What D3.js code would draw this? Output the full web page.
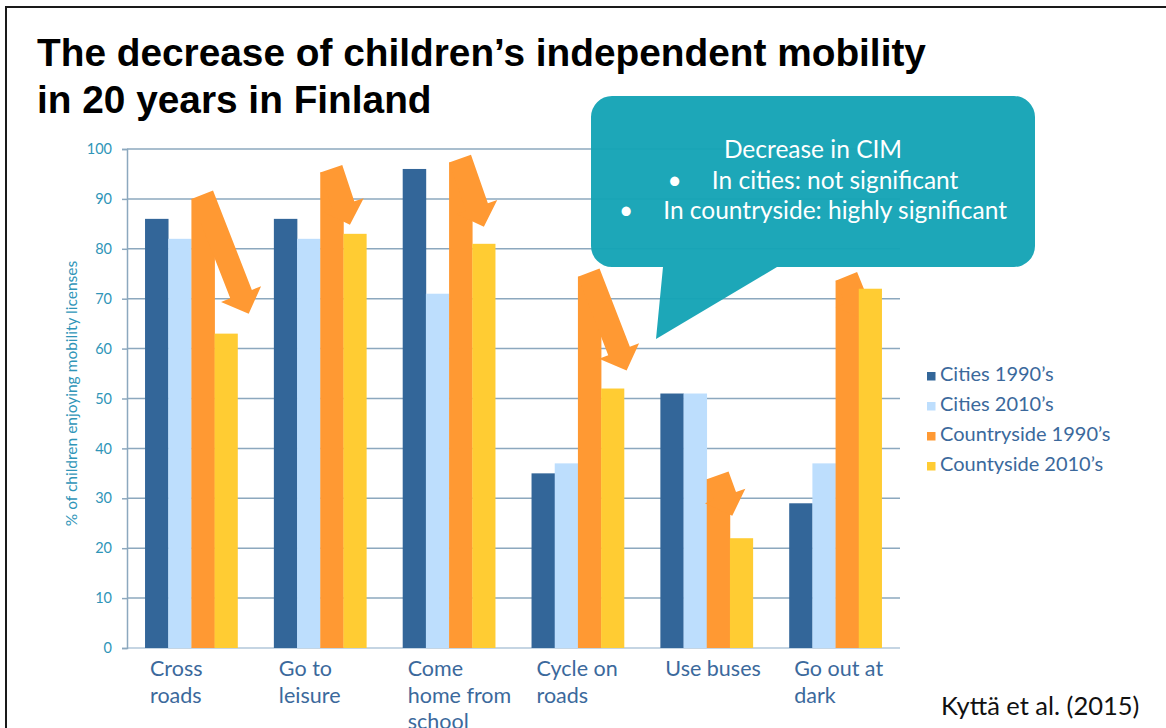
<!DOCTYPE html>
<html>
<head>
<meta charset="utf-8">
<script src="https://cdn.jsdelivr.net/npm/d3@7"></script>
<style>
  html, body { margin: 0; padding: 0; background: #fff; overflow: hidden; }
  svg { display: block; }
</style>
</head>
<body>
<svg id="chart" width="1166" height="728"></svg>
<script>
// ---------------- DATA ----------------
const categories = ["Cross roads", "Go to leisure", "Come home from school", "Cycle on roads", "Use buses", "Go out at dark"];
const categoryLines = [["Cross", "roads"], ["Go to", "leisure"], ["Come", "home from", "school"], ["Cycle on", "roads"], ["Use buses"], ["Go out at", "dark"]];
const seriesNames = ["Cities 1990\u2019s", "Cities 2010\u2019s", "Countryside 1990\u2019s", "Countyside 2010\u2019s"];
const cities1990 = [86, 86, 96, 35, 51, 29];
const cities2010 = [82, 82, 71, 37, 51, 37];
const country1990 = [90, 95.3, 97.3, 74.4, 33.8, 73.6];
const country2010 = [63, 83, 81, 52, 22, 72];
// arrow annotations (countryside decrease): value at arrow tip, and tip shift (in bar widths) from the 2010 bar centre
const arrowTipValue = [67, 84.8, 84.4, 55.6, 26.5, 66];
const arrowTipShift = [0.97, -0.22, 0, 0.6, -0.4, -0.3];
const yTicks = [0, 10, 20, 30, 40, 50, 60, 70, 80, 90, 100];
const yTitle = "% of children enjoying mobility licenses";
const title = ["The decrease of children\u2019s independent mobility", "in 20 years in Finland"];
const calloutLines = ["Decrease in CIM", "In cities: not significant", "In countryside: highly significant"];
const citation = "Kytt\u00e4 et al. (2015)";

// ---------------- STYLE ----------------
const colors = ["#336699", "#BDDEFD", "#FF9933", "#FFCC33"];
const gridColor = "#8CA8BE";
const tealText = "#2F95B8";
const blueText = "#3B699C";

const svg = d3.select("#chart");
const margin = { left: 127, right: 900, top: 149, bottom: 648 };

const x0 = d3.scaleBand().domain(categories).range([margin.left, margin.right]).paddingInner(0.28).paddingOuter(0.14);
const x1 = d3.scaleBand().domain(d3.range(4)).range([0, x0.bandwidth()]);
const y = d3.scaleLinear().domain([0, 100]).range([margin.bottom, margin.top]);

// frame
svg.append("rect").attr("x", 6).attr("y", 7).attr("width", 1300).attr("height", 900)
  .attr("fill", "none").attr("stroke", "#1a1a1a").attr("stroke-width", 2);

// title
svg.append("g").selectAll("text").data(title).join("text")
  .attr("x", 37).attr("y", (d, i) => 66 + i * 47)
  .attr("font-family", "'Liberation Sans', Arial, sans-serif").attr("font-weight", "bold")
  .attr("font-size", 38.8).attr("fill", "#000").text(d => d);

// gridlines
const grid = svg.append("g");
grid.selectAll("line").data(yTicks.filter(t => t > 0)).join("line")
  .attr("x1", margin.left).attr("x2", margin.right)
  .attr("y1", d => y(d)).attr("y2", d => y(d))
  .attr("stroke", gridColor).attr("stroke-width", 1.5);
// baseline
grid.append("line").attr("x1", margin.left).attr("x2", margin.right)
  .attr("y1", y(0)).attr("y2", y(0)).attr("stroke", "#C5D5E3").attr("stroke-width", 2);

// y axis
const yAxis = svg.append("g").attr("transform", `translate(${margin.left},0)`)
  .call(d3.axisLeft(y).tickValues(yTicks).tickSize(5).tickPadding(10));
yAxis.select(".domain").attr("stroke", gridColor).attr("stroke-width", 1.5);
yAxis.selectAll(".tick line").attr("stroke", gridColor).attr("stroke-width", 1.5);
yAxis.selectAll(".tick text").attr("fill", tealText).attr("font-family", "Lato, sans-serif").attr("font-size", 14.5);

// y title
svg.append("text").attr("transform", `translate(77,${(margin.top + margin.bottom) / 2 - 5}) rotate(-90)`)
  .attr("text-anchor", "middle").attr("font-family", "Lato, sans-serif").attr("font-size", 15.5)
  .attr("fill", tealText).text(yTitle);

// bars
const series = [cities1990, cities2010, country1990, country2010];
const bw = x1.bandwidth();
const barG = svg.append("g");
[0, 1, 2].forEach(s => {
  barG.append("g").selectAll("rect").data(categories).join("rect")
    .attr("x", c => x0(c) + x1(s))
    .attr("y", (c, i) => y(series[s][i]))
    .attr("width", bw + 0.3)
    .attr("height", (c, i) => y(0) - y(series[s][i]))
    .attr("fill", colors[s]);
});

// arrows (from top of countryside 1990 bars towards the 2010 bars)
function arrowPoints(i) {
  const c = categories[i];
  const L = [x0(c) + x1(2), y(country1990[i])];
  const T = [x0(c) + x1(3) + bw / 2 + arrowTipShift[i] * bw, y(arrowTipValue[i])];
  let S = [L[0] + bw / 2, L[1]];
  let d, p;
  for (let k = 0; k < 3; k++) {
    const dx = T[0] - S[0], dy = T[1] - S[1], len = Math.hypot(dx, dy);
    d = [dx / len, dy / len];
    p = [d[1], -d[0]];
    S = [L[0] + p[0] * bw / 2, L[1] + p[1] * bw / 2];
  }
  const hl = 21, hw = 21.5, sw = bw / 2;
  const B = [T[0] - d[0] * hl, T[1] - d[1] * hl];
  const pt = (o, s) => [o[0] + p[0] * s, o[1] + p[1] * s];
  return [pt(S, -sw), pt(S, sw), pt(B, sw), pt(B, hw), T, pt(B, -hw), pt(B, -sw)];
}
barG.append("g").selectAll("polygon").data(categories).join("polygon")
  .attr("points", (c, i) => arrowPoints(i).map(q => q.join(",")).join(" "))
  .attr("fill", colors[2]);

// 2010 countryside bars on top
barG.append("g").selectAll("rect").data(categories).join("rect")
  .attr("x", c => x0(c) + x1(3))
  .attr("y", (c, i) => y(series[3][i]))
  .attr("width", bw)
  .attr("height", (c, i) => y(0) - y(series[3][i]))
  .attr("fill", colors[3]);

// x labels
const xl = svg.append("g").selectAll("g").data(categories).join("g")
  .attr("transform", c => `translate(${x0(c) + 5},0)`);
xl.selectAll("text").data((c, i) => categoryLines[i]).join("text")
  .attr("x", 0).attr("y", (d, j) => 676 + j * 26.5)
  .attr("font-family", "Lato, sans-serif").attr("font-size", 21.5)
  .attr("fill", blueText).text(d => d);

// legend
const leg = svg.append("g").selectAll("g").data(seriesNames).join("g")
  .attr("transform", (d, i) => `translate(927,${381 + i * 30})`);
leg.append("rect").attr("x", 0).attr("y", -9).attr("width", 8.5).attr("height", 8.5).attr("fill", (d, i) => colors[i]);
leg.append("text").attr("x", 13).attr("y", 0).attr("font-family", "Lato, sans-serif").attr("font-size", 20)
  .attr("fill", blueText).text(d => d);

// callout
const cx0 = 591, cy0 = 96, cx1 = 1035, cy1 = 267, r = 21;
const callPath = d3.path();
callPath.moveTo(cx0 + r, cy0);
callPath.lineTo(cx1 - r, cy0);
callPath.arcTo(cx1, cy0, cx1, cy0 + r, r);
callPath.lineTo(cx1, cy1 - r);
callPath.arcTo(cx1, cy1, cx1 - r, cy1, r);
callPath.lineTo(777, cy1);
callPath.lineTo(656, 339);
callPath.lineTo(663, cy1);
callPath.lineTo(cx0 + r, cy1);
callPath.arcTo(cx0, cy1, cx0, cy1 - r, r);
callPath.lineTo(cx0, cy0 + r);
callPath.arcTo(cx0, cy0, cx0 + r, cy0, r);
callPath.closePath();
svg.append("path").attr("d", callPath.toString()).attr("fill", "#14A3B5").attr("fill-opacity", 0.96);

const callG = svg.append("g").attr("font-family", "Lato, sans-serif").attr("font-size", 24.5).attr("fill", "#fff");
const ccx = (cx0 + cx1) / 2;
callG.append("text").attr("x", ccx).attr("y", 158).attr("text-anchor", "middle").text(calloutLines[0]);
[1, 2].forEach(k => {
  const t = callG.append("text").attr("x", ccx).attr("y", 158 + k * 30.5).attr("text-anchor", "middle");
  t.append("tspan").text("\u2022");
  t.append("tspan").attr("dx", 30).text(calloutLines[k]);
});

// citation
svg.append("text").attr("x", 941).attr("y", 715).attr("font-family", "Lato, sans-serif").attr("font-size", 25.5)
  .attr("fill", "#111").text(citation);
</script>
</body>
</html>
